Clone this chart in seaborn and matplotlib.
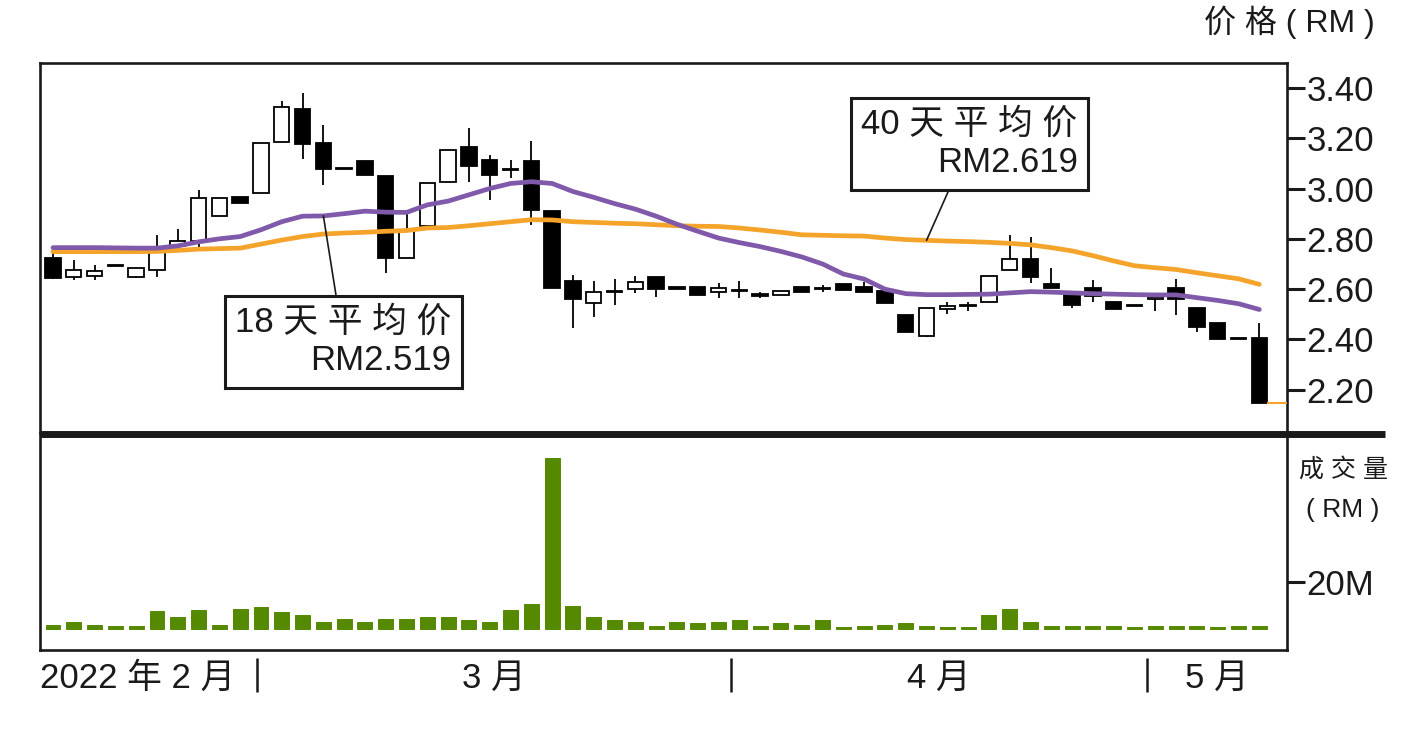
import numpy as np
import matplotlib.pyplot as plt
import matplotlib.transforms as mtransforms
from matplotlib.lines import Line2D
import seaborn as sns

# daily OHLC, RM
opens = [2.725, 2.650, 2.652, 2.696, 2.650, 2.676, 2.772, 2.792, 2.892, 2.966,
         2.981, 3.186, 3.315, 3.180, 3.080, 3.110, 3.051, 2.723, 2.849, 3.024,
         3.167, 3.114, 3.079, 3.110, 2.912, 2.633, 2.546, 2.592, 2.601, 2.650,
         2.610, 2.608, 2.587, 2.595, 2.580, 2.577, 2.608, 2.603, 2.621, 2.610,
         2.594, 2.497, 2.415, 2.520, 2.535, 2.550, 2.676, 2.719, 2.620, 2.577,
         2.604, 2.550, 2.535, 2.560, 2.604, 2.524, 2.464, 2.407, 2.405]
highs = [2.744, 2.716, 2.696, 2.696, 2.684, 2.815, 2.839, 2.994, 2.964, 2.966,
         3.180, 3.346, 3.381, 3.253, 3.080, 3.110, 3.051, 2.903, 3.021, 3.153,
         3.240, 3.134, 3.114, 3.187, 2.912, 2.656, 2.634, 2.639, 2.652, 2.650,
         2.610, 2.608, 2.624, 2.634, 2.589, 2.593, 2.608, 2.617, 2.621, 2.630,
         2.594, 2.497, 2.523, 2.550, 2.550, 2.654, 2.816, 2.809, 2.684, 2.577,
         2.637, 2.550, 2.535, 2.568, 2.639, 2.524, 2.464, 2.407, 2.467]
lows = [2.640, 2.637, 2.637, 2.692, 2.646, 2.650, 2.772, 2.764, 2.892, 2.944,
        2.981, 3.186, 3.118, 3.014, 3.076, 3.054, 2.666, 2.723, 2.849, 3.024,
        3.024, 2.955, 3.041, 2.855, 2.606, 2.445, 2.491, 2.537, 2.584, 2.570,
        2.602, 2.577, 2.564, 2.564, 2.564, 2.577, 2.587, 2.587, 2.597, 2.590,
        2.546, 2.431, 2.411, 2.501, 2.515, 2.550, 2.676, 2.624, 2.606, 2.524,
        2.550, 2.520, 2.531, 2.514, 2.497, 2.431, 2.402, 2.403, 2.146]
closes = [2.646, 2.676, 2.674, 2.692, 2.684, 2.749, 2.793, 2.964, 2.964, 2.944,
          3.180, 3.326, 3.176, 3.077, 3.076, 3.054, 2.723, 2.833, 3.021, 3.153,
          3.090, 3.054, 3.075, 2.915, 2.606, 2.560, 2.590, 2.588, 2.630, 2.601,
          2.602, 2.577, 2.604, 2.591, 2.573, 2.593, 2.587, 2.599, 2.597, 2.590,
          2.546, 2.431, 2.523, 2.533, 2.531, 2.654, 2.719, 2.647, 2.606, 2.537,
          2.573, 2.520, 2.531, 2.568, 2.561, 2.449, 2.402, 2.403, 2.146]

# turnover, RM million
volume_m = [1.8, 3.1, 1.8, 1.3, 1.3, 7.5, 5.0, 8.2, 1.8, 8.7,
            9.3, 7.1, 6.0, 3.1, 4.4, 3.1, 4.4, 4.4, 5.0, 5.0,
            3.7, 3.1, 8.2, 10.6, 72.8, 9.9, 5.0, 3.7, 3.1, 1.3,
            3.1, 2.6, 3.1, 3.7, 1.3, 2.6, 1.8, 3.7, 0.8, 1.3,
            1.8, 2.6, 1.3, 0.8, 0.8, 6.0, 8.7, 3.1, 1.3, 1.3,
            1.3, 1.3, 0.8, 1.3, 1.3, 1.3, 0.8, 1.3, 1.3]

# moving averages
ma18 = [2.765, 2.765, 2.765, 2.764, 2.763, 2.763, 2.772, 2.788, 2.800, 2.809,
        2.836, 2.868, 2.890, 2.891, 2.900, 2.910, 2.906, 2.905, 2.935, 2.950,
        2.975, 3.000, 3.020, 3.027, 3.020, 2.988, 2.965, 2.940, 2.918, 2.890,
        2.858, 2.830, 2.803, 2.785, 2.769, 2.750, 2.728, 2.700, 2.660, 2.640,
        2.600, 2.582, 2.578, 2.578, 2.579, 2.580, 2.585, 2.590, 2.588, 2.585,
        2.582, 2.580, 2.578, 2.577, 2.577, 2.566, 2.555, 2.542, 2.519]
ma40 = [2.749, 2.749, 2.749, 2.749, 2.749, 2.750, 2.754, 2.759, 2.761, 2.763,
        2.779, 2.795, 2.809, 2.819, 2.823, 2.826, 2.830, 2.833, 2.843, 2.845,
        2.852, 2.860, 2.868, 2.876, 2.875, 2.868, 2.865, 2.862, 2.860, 2.856,
        2.852, 2.850, 2.849, 2.843, 2.835, 2.826, 2.816, 2.814, 2.812, 2.811,
        2.803, 2.797, 2.794, 2.791, 2.789, 2.786, 2.782, 2.776, 2.765, 2.752,
        2.733, 2.712, 2.693, 2.685, 2.678, 2.665, 2.653, 2.641, 2.619]

price_ticks = [2.20, 2.40, 2.60, 2.80, 3.00, 3.20, 3.40]
volume_ticks = [20]
month_breaks = [9.8, 32.6, 52.6]
month_labels = ["2022 年 2 月", "3 月", "4 月", "5 月"]

PURPLE = "#8059aa"
ORANGE = "#f4a42a"
GREEN = "#558a00"
INK = "#1a1a1a"

sns.set_style("white")
plt.rcParams["font.family"] = ["Liberation Sans", "Noto Sans CJK SC", "DejaVu Sans"]

n = len(closes)
idx = np.arange(n)
xlim = (-0.625, 59.33)

fig = plt.figure(figsize=(14.1, 7.34), dpi=100)
ax = fig.add_axes([40 / 1410, 1 - 433 / 734, 1247 / 1410, 370 / 734])
ax_vol = fig.add_axes([40 / 1410, 1 - 650 / 734, 1247 / 1410, 217 / 734])

# candles
o = np.array(opens)
c = np.array(closes)
up = c >= o
body_lo = np.minimum(o, c)
body_h = np.maximum(np.abs(c - o), 0.003)
ax.vlines(idx, lows, highs, color="black", lw=1.3, zorder=2)
ax.bar(idx[up], body_h[up], bottom=body_lo[up], width=0.74,
       color="white", edgecolor="black", lw=1.3, zorder=3)
ax.bar(idx[~up], body_h[~up], bottom=body_lo[~up], width=0.74,
       color="black", edgecolor="black", lw=1.3, zorder=3)

sns.lineplot(x=idx, y=ma40, color=ORANGE, lw=3.4, ax=ax, zorder=4)
sns.lineplot(x=idx, y=ma18, color=PURPLE, lw=3.4, ax=ax, zorder=5)
ax.hlines(closes[-1], n - 1 + 0.37, xlim[1], color=ORANGE, lw=1.5, zorder=4)

ax.set_xlim(*xlim)
ax.set_ylim(2.028, 3.499)
ax.set_xticks([])
ax.set_yticks(price_ticks)
ax.set_yticklabels([f"{t:.2f}" for t in price_ticks])
ax.set_xlabel("")
ax.set_ylabel("")
for s in ax.spines.values():
    s.set_linewidth(1.9)
    s.set_color(INK)
ax.spines["bottom"].set_visible(False)

box_kw = dict(boxstyle="square,pad=0.3", fc="white", ec=INK, lw=2.2)
arrow_kw = dict(arrowstyle="-", color=INK, lw=1.2, shrinkA=0, shrinkB=0)
ax.annotate("18 天 平 均 价\nRM2.519", xy=(13, ma18[13]), xytext=(0.330, 0.247),
            textcoords="axes fraction", ha="right", va="center", multialignment="right",
            fontsize=25, linespacing=1.2, bbox=box_kw, arrowprops=arrow_kw,
            color=INK, zorder=6)
ax.annotate("40 天 平 均 价\nRM2.619", xy=(42, ma40[42]), xytext=(0.832, 0.782),
            textcoords="axes fraction", ha="right", va="center", multialignment="right",
            fontsize=25, linespacing=1.2, bbox=box_kw, arrowprops=arrow_kw,
            color=INK, zorder=6)

# volume
sns.barplot(x=idx, y=volume_m, native_scale=True, color=GREEN, saturation=1,
            width=0.72, errorbar=None, edgecolor=GREEN, linewidth=0.7, ax=ax_vol)
ax_vol.set_xlim(*xlim)
ax_vol.set_ylim(-8.9, 83.4)
ax_vol.set_xticks([])
ax_vol.set_yticks(volume_ticks)
ax_vol.set_yticklabels([f"{t}M" for t in volume_ticks])
ax_vol.set_xlabel("")
ax_vol.set_ylabel("")
for s in ax_vol.spines.values():
    s.set_linewidth(1.9)
    s.set_color(INK)
ax_vol.spines["top"].set_visible(False)

# right-hand scales: labels from the axis, tick dashes drawn on the figure
for a, ticks in ((ax, price_ticks), (ax_vol, volume_ticks)):
    a.yaxis.set_ticks_position("right")
    a.tick_params(axis="y", which="major", right=True, left=False, length=0,
                  labelright=True, labelleft=False, labelsize=25, pad=14,
                  labelcolor=INK)
    to_fig = a.transData + fig.transFigure.inverted()
    x0 = a.get_position().x1
    for t in ticks:
        yf = to_fig.transform((0, t))[1]
        fig.add_artist(Line2D([x0, x0 + 18 / 1410], [yf, yf], lw=2.2, color=INK,
                              solid_capstyle="butt", transform=fig.transFigure,
                              zorder=10))

# month axis under the volume panel
trans = mtransforms.blended_transform_factory(ax_vol.transData, ax_vol.transAxes)
ax_vol.vlines(month_breaks, -0.195, -0.035, color=INK, lw=1.8,
              transform=trans, clip_on=False)
edges = [xlim[0]] + month_breaks + [xlim[1]]
for k, lab in enumerate(month_labels):
    if k == 0:
        ax_vol.text(edges[0], -0.13, lab, transform=trans, ha="left", va="center",
                    fontsize=25, color=INK)
    else:
        mid = (edges[k] + edges[k + 1]) / 2
        ax_vol.text(mid, -0.13, lab, transform=trans, ha="center", va="center",
                    fontsize=25, color=INK)

# heavy divider between price and volume panels
fig.add_artist(Line2D([40 / 1410, 1385 / 1410], [1 - 433.5 / 734] * 2, lw=5,
                      color=INK, solid_capstyle="butt", transform=fig.transFigure))

fig.text(0.975, 0.992, "价 格 ( RM )", ha="right", va="top", fontsize=23, color=INK)
fig.text(0.9525, 0.36, "成 交 量", ha="center", va="center", fontsize=18, color=INK)
fig.text(0.9525, 0.305, "( RM )", ha="center", va="center", fontsize=19, color=INK)

fig.savefig("out.png", dpi=100, facecolor="white")
